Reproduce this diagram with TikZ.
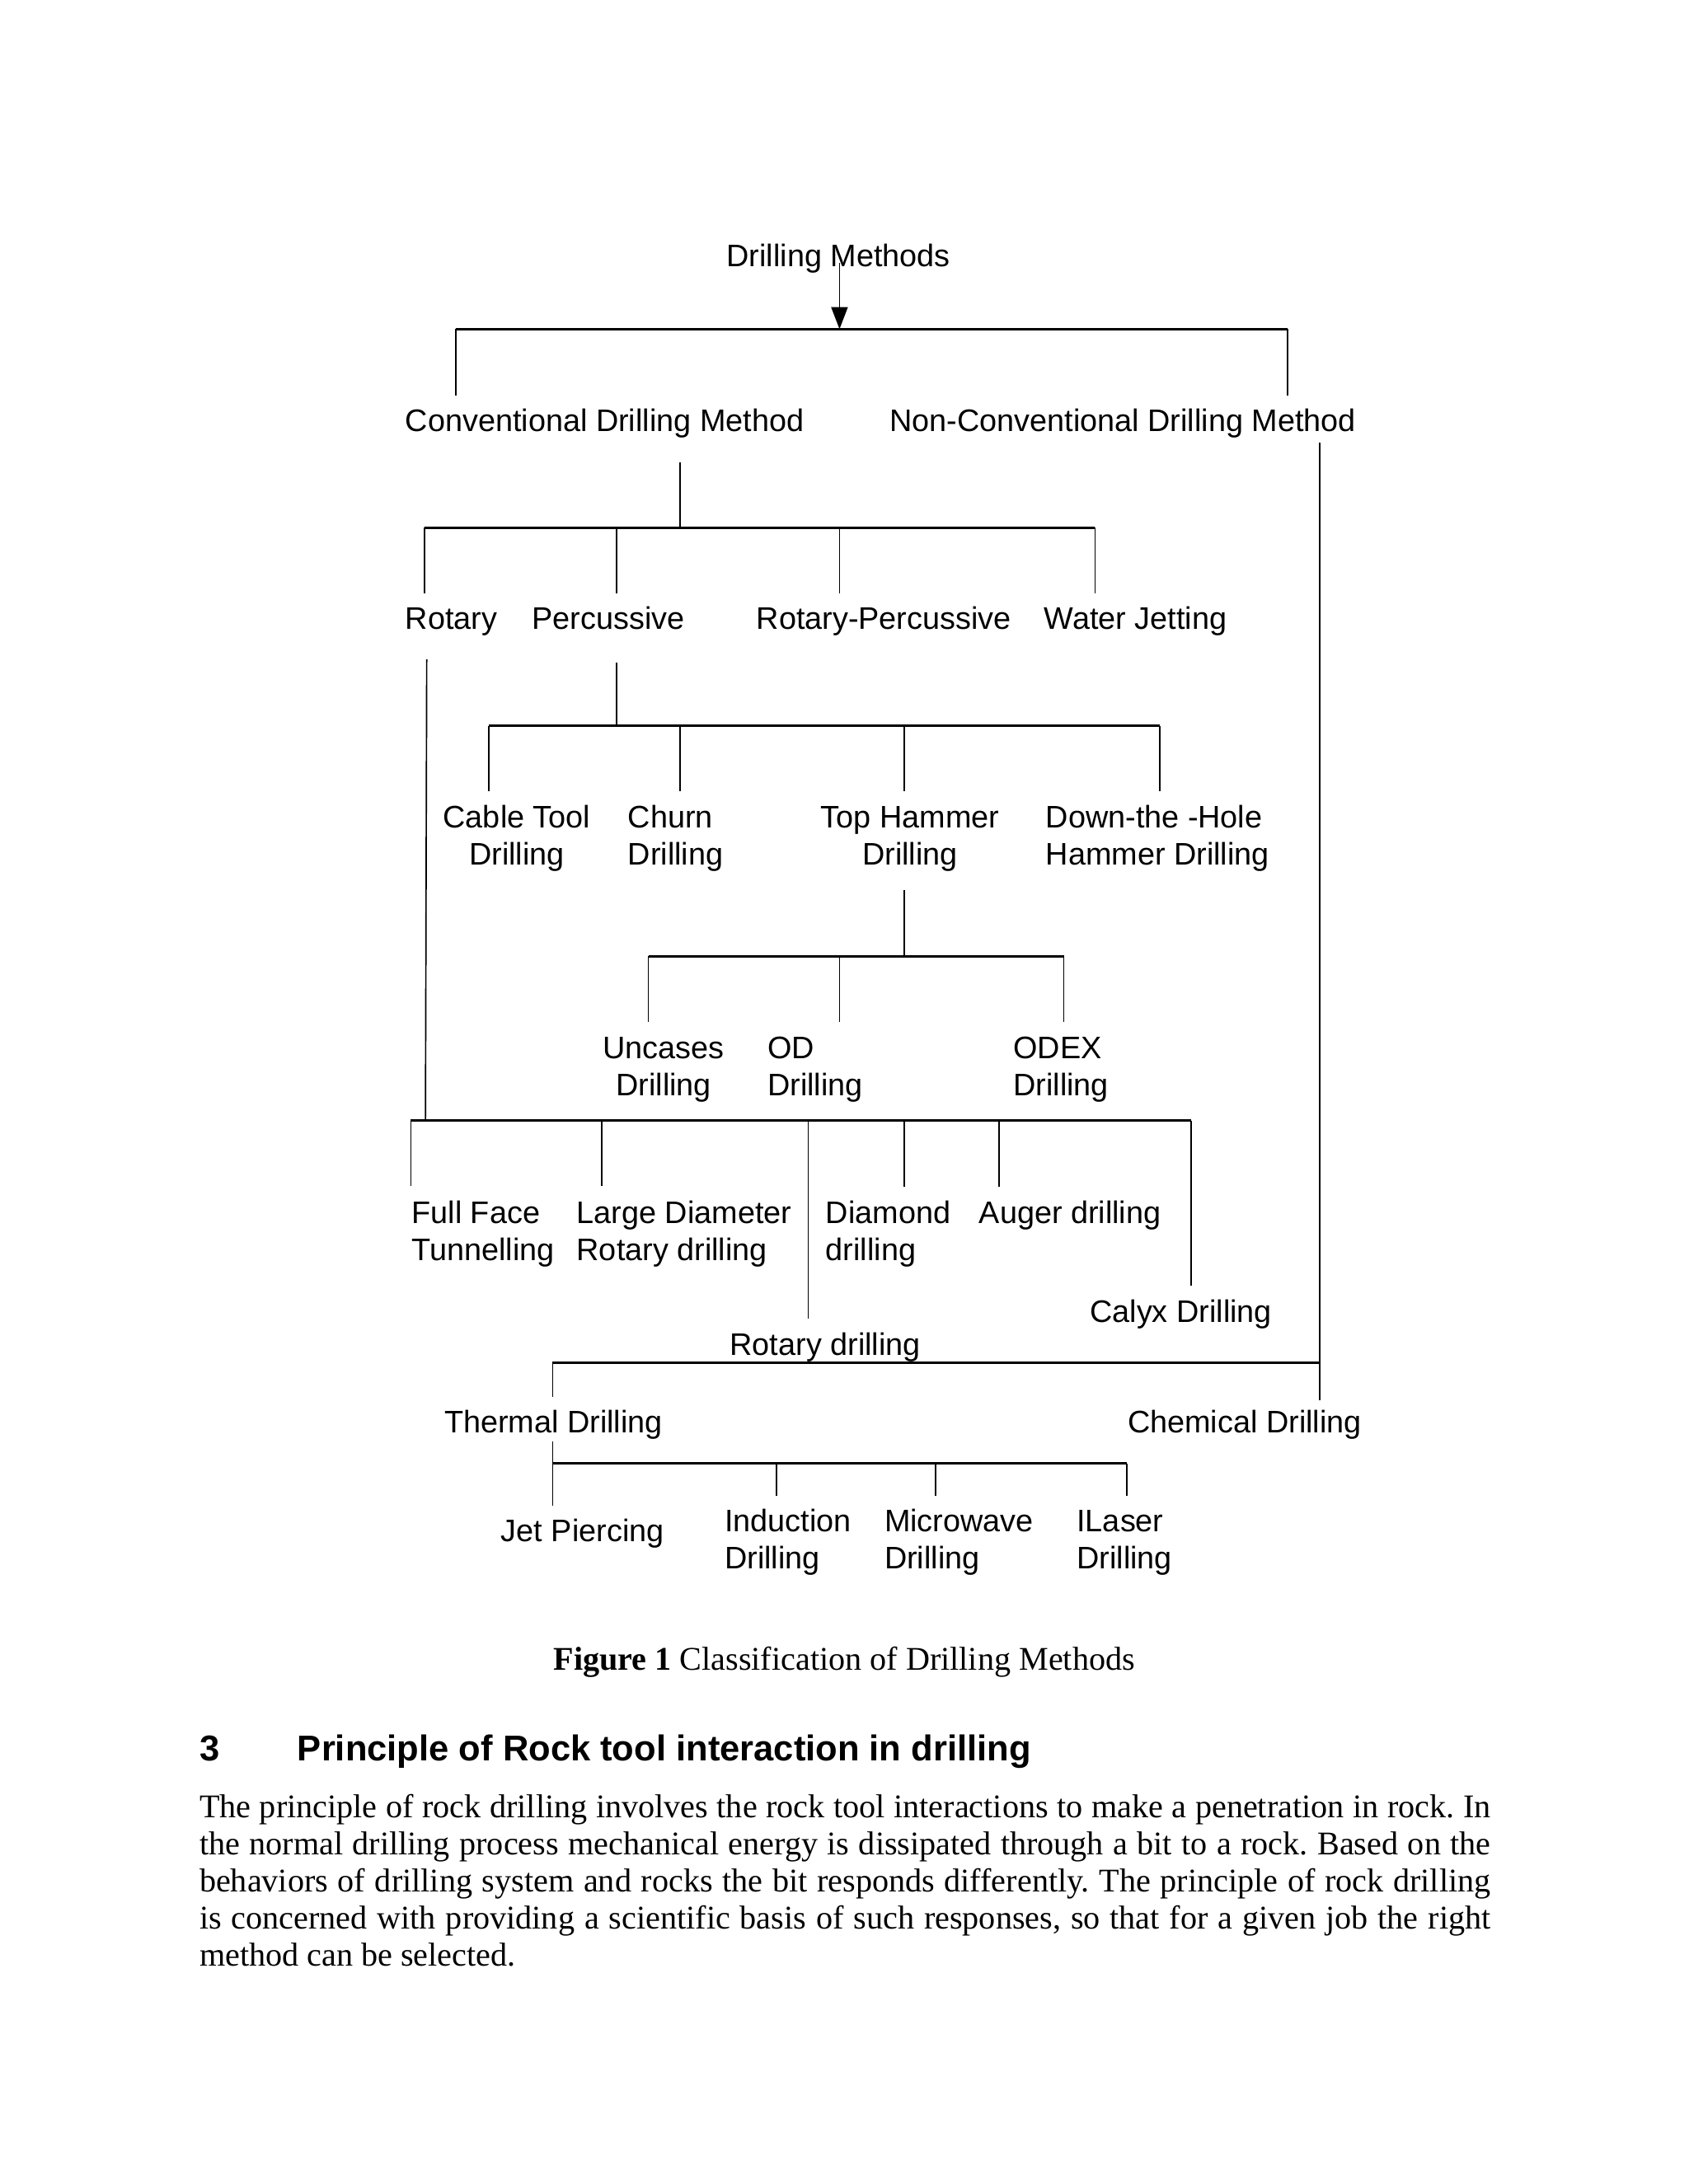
\documentclass[tikz,border=0pt]{standalone}
\usepackage{fontspec}
\setmainfont{Liberation Serif}
\setsansfont{Liberation Sans}
\usetikzlibrary{arrows.meta}
\newcommand{\lblfont}{\sffamily\fontsize{11.3}{13.4}\selectfont}
\newcommand{\bodyfont}{\rmfamily\fontsize{12}{13.5}\selectfont}
\frenchspacing
\begin{document}
\begin{tikzpicture}[x=0.50495pt,y=-0.50495pt,
  lbl/.style={inner sep=0pt, outer sep=0pt, font=\lblfont, anchor=base west, align=left},
  lblc/.style={lbl, anchor=base, align=center},
  vline/.style={line width=0.5pt},
  hbar/.style={line width=0.9pt},
  txt/.style={inner sep=0pt, outer sep=0pt, anchor=base west, font=\bodyfont},
]
\useasboundingbox (0,0) rectangle (1212,1568);

% ---------- labels (multi-line labels: position = baseline of last line) ----------
\node[lbl] (dm) at (521.6,191.3) {Drilling Methods};
\node[lbl] (conv) at (291,309.7) {Conventional Drilling Method};
\node[lbl] (nonconv) at (638.7,309.7) {Non-Conventional Drilling Method};
\node[lbl] (rot) at (291,451.7) {Rotary};
\node[lbl] (perc) at (382,451.7) {Percussive};
\node[lbl] (rotperc) at (543,451.7) {Rotary-Percussive};
\node[lbl] (water) at (749.6,451.7) {Water Jetting};
\node[lblc] (cable) at (371,620.8) {Cable Tool\\Drilling};
\node[lbl] (churn) at (450.8,620.8) {Churn\\Drilling};
\node[lblc] (tophammer) at (653.2,620.8) {Top Hammer\\Drilling};
\node[lbl] (dth) at (750.7,620.8) {Down-the -Hole\\Hammer Drilling};
\node[lblc] (uncased) at (476.4,786.7) {Uncases\\Drilling};
\node[lbl] (od) at (551,786.7) {OD\\Drilling};
\node[lbl] (odex) at (727.4,786.7) {ODEX\\Drilling};
\node[lbl] (fullface) at (295.6,905) {Full Face\\Tunnelling};
\node[lbl] (large) at (414,905) {Large Diameter\\Rotary drilling};
\node[lbl] (diamond) at (592.8,905) {Diamond\\drilling};
\node[lbl] (auger) at (702.8,878.4) {Auger drilling};
\node[lbl] (calyx) at (782.4,949.4) {Calyx Drilling};
\node[lbl] (rotdrill) at (524,973.1) {Rotary drilling};
\node[lbl] (thermal) at (319,1028.7) {Thermal Drilling};
\node[lbl] (chem) at (809.5,1028.7) {Chemical Drilling};
\node[lbl] (jet) at (359.7,1107) {Jet Piercing};
\node[lbl] (induct) at (520.2,1126.3) {Induction\\Drilling};
\node[lbl] (micro) at (634.9,1126.3) {Microwave\\Drilling};
\node[lbl] (laser) at (773,1126.3) {ILaser\\Drilling};

% ---------- junction coordinates ----------
% level 1
\coordinate (a0) at (602.6,189);
\coordinate (a1) at (602.6,236.3);
\coordinate (b1L) at (327.4,236.3);
\coordinate (b1R) at (924.1,236.3);
\coordinate (convIn) at (327.4,284);
\coordinate (ncIn) at (924.1,284);
% level 2
\coordinate (convOut) at (488,332);
\coordinate (b2M) at (488,378.7);
\coordinate (b2a) at (304.6,378.7);
\coordinate (b2b) at (442.4,378.7);
\coordinate (b2c) at (602.7,378.7);
\coordinate (b2d) at (786,378.7);
\coordinate (rotIn) at (304.6,426);
\coordinate (percIn) at (442.4,426);
\coordinate (rpIn) at (602.7,426);
\coordinate (wjIn) at (786,426);
% level 3 (percussive)
\coordinate (percOut) at (442.4,475.8);
\coordinate (b3M) at (442.4,521.2);
\coordinate (b3a) at (351,521.2);
\coordinate (b3b) at (488.2,521.2);
\coordinate (b3c) at (649.1,521.2);
\coordinate (b3d) at (832.4,521.2);
\coordinate (cableIn) at (351,568.1);
\coordinate (churnIn) at (488.2,568.1);
\coordinate (thIn) at (649.1,568.1);
\coordinate (dthIn) at (832.4,568.1);
% level 4 (top hammer)
\coordinate (thOut) at (649.1,639.1);
\coordinate (b4M) at (649.1,686.5);
\coordinate (b4a) at (465.4,686.5);
\coordinate (b4b) at (602.7,686.5);
\coordinate (b4c) at (763.6,686.5);
\coordinate (unIn) at (465.4,733.8);
\coordinate (odIn) at (602.7,733.8);
\coordinate (odexIn) at (763.6,733.8);
% rotary branch
\coordinate (rotOut) at (306.3,473.4);
\coordinate (b5M) at (305.4,804.6);
\coordinate (b5a) at (294.9,804.6);
\coordinate (b5b) at (431.8,804.6);
\coordinate (b5c) at (580.2,804.6);
\coordinate (b5d) at (649,804.6);
\coordinate (b5e) at (717.3,804.6);
\coordinate (b5f) at (854.9,804.6);
\coordinate (ffIn) at (294.9,851.2);
\coordinate (ldIn) at (431.8,851.2);
\coordinate (rdIn) at (580.2,946.9);
\coordinate (diaIn) at (649,852.2);
\coordinate (augIn) at (717.3,852.2);
\coordinate (calIn) at (854.9,923.2);
% non-conventional branch
\coordinate (ncOut) at (947.1,318);
\coordinate (b6R) at (947.1,978.6);
\coordinate (chemIn) at (947.1,1005);
\coordinate (b6L) at (396.7,978.6);
\coordinate (thermIn) at (396.7,1003);
% thermal
\coordinate (thermOut) at (396.7,1034.6);
\coordinate (b7a) at (396.7,1050.8);
\coordinate (jetIn) at (396.7,1081);
\coordinate (b7b) at (557.2,1050.8);
\coordinate (b7c) at (671.4,1050.8);
\coordinate (b7d) at (809,1050.8);
\coordinate (indIn) at (557.2,1074);
\coordinate (micIn) at (671.4,1074);
\coordinate (lasIn) at (809,1074);

% ---------- connectors ----------
\draw[vline, -{Triangle[length=8pt,width=6pt]}] (a0) -- (a1);
\draw[hbar] (b1L) -- (b1R);
\draw[vline] (b1L) -- (convIn);
\draw[vline] (b1R) -- (ncIn);

\draw[vline] (convOut) -- (b2M);
\draw[hbar] (b2a) -- (b2d);
\draw[vline] (b2a) -- (rotIn);
\draw[vline] (b2b) -- (percIn);
\draw[vline] (b2c) -- (rpIn);
\draw[vline] (b2d) -- (wjIn);

\draw[vline] (percOut) -- (b3M);
\draw[hbar] (b3a) -- (b3d);
\draw[vline] (b3a) -- (cableIn);
\draw[vline] (b3b) -- (churnIn);
\draw[vline] (b3c) -- (thIn);
\draw[vline] (b3d) -- (dthIn);

\draw[vline] (thOut) -- (b4M);
\draw[hbar] (b4a) -- (b4c);
\draw[vline] (b4a) -- (unIn);
\draw[vline] (b4b) -- (odIn);
\draw[vline] (b4c) -- (odexIn);

\draw[vline] (rotOut) -- (b5M);
\draw[hbar] (b5a) -- (b5f);
\draw[vline] (b5a) -- (ffIn);
\draw[vline] (b5b) -- (ldIn);
\draw[vline] (b5c) -- (rdIn);
\draw[vline] (b5d) -- (diaIn);
\draw[vline] (b5e) -- (augIn);
\draw[vline] (b5f) -- (calIn);

\draw[vline] (ncOut) -- (chemIn);
\draw[hbar] (b6L) -- (b6R);
\draw[vline] (b6L) -- (thermIn);

\draw[vline] (thermOut) -- (jetIn);
\draw[hbar] (b7a) -- (b7d);
\draw[vline] (b7b) -- (indIn);
\draw[vline] (b7c) -- (micIn);
\draw[vline] (b7d) -- (lasIn);

% ---------- caption and text ----------
\node[txt] (caption) at (397.3,1199.3) {\textbf{Figure 1} Classification of Drilling Methods};
\node[txt, font=\sffamily\bfseries\fontsize{13}{15}\selectfont] (secnum) at (143.2,1264.4) {3};
\node[txt, font=\sffamily\bfseries\fontsize{13}{15}\selectfont] (sectitle) at (213.6,1264.4) {Principle of Rock tool interaction in drilling};
\node[txt] (p1) at (143.2,1304.9) {\makebox[468pt][s]{The principle of rock drilling involves the rock tool interactions to make a penetration in rock. In}};
\node[txt] (p2) at (143.2,1331.6) {\makebox[468pt][s]{the normal drilling process mechanical energy is dissipated through a bit to a rock. Based on the}};
\node[txt] (p3) at (143.2,1358.3) {\makebox[468pt][s]{behaviors of drilling system and rocks the bit responds differently. The principle of rock drilling}};
\node[txt] (p4) at (143.2,1385.0) {\makebox[468pt][s]{is concerned with providing a scientific basis of such responses, so that for a given job the right}};
\node[txt] (p5) at (143.2,1411.7) {method can be selected.};
\end{tikzpicture}
\end{document}
